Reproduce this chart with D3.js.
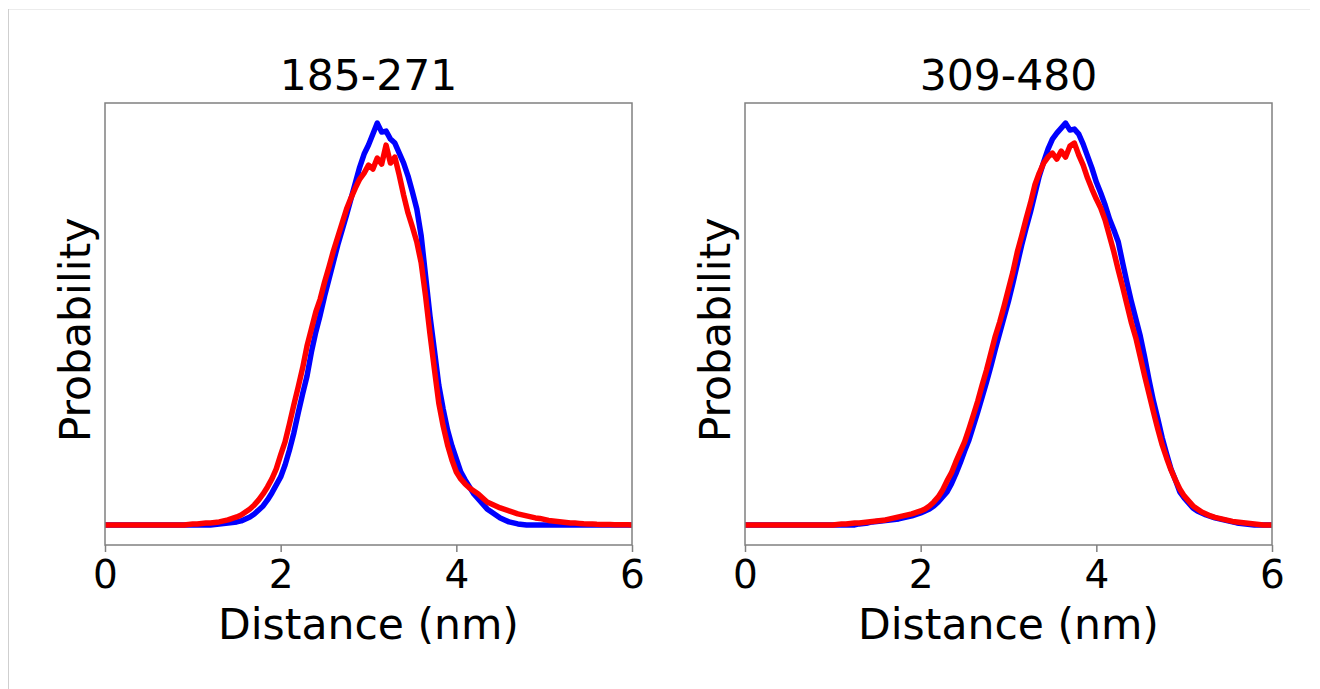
<!DOCTYPE html>
<html>
<head>
<meta charset="utf-8">
<script src="https://cdn.jsdelivr.net/npm/d3@7"></script>
<style>
  html, body { margin: 0; padding: 0; background: #ffffff; }
  svg { display: block; }
  text { font-family: "DejaVu Sans", sans-serif; fill: #000; }
</style>
</head>
<body>
<svg id="chart" width="1320" height="689"></svg>
<script>
// ---------- data ----------
const titles = ["185-271", "309-480"];
const xTicks = [0, 2, 4, 6];
const xLabel = "Distance (nm)";
const yLabel = "Probability";

const distance = [
  0.00,0.05,0.10,0.15,0.20,0.25,0.30,0.35,0.40,0.45,
  0.50,0.55,0.60,0.65,0.70,0.75,0.80,0.85,0.90,0.95,
  1.00,1.05,1.10,1.15,1.20,1.25,1.30,1.35,1.40,1.45,
  1.50,1.55,1.60,1.65,1.70,1.75,1.80,1.85,1.90,1.95,
  2.00,2.05,2.10,2.15,2.20,2.25,2.30,2.35,2.40,2.45,
  2.50,2.55,2.60,2.65,2.70,2.75,2.80,2.85,2.90,2.95,
  3.00,3.05,3.10,3.15,3.20,3.25,3.30,3.35,3.40,3.45,
  3.50,3.55,3.60,3.65,3.70,3.75,3.80,3.85,3.90,3.95,
  4.00,4.05,4.10,4.15,4.20,4.25,4.30,4.35,4.40,4.45,
  4.50,4.55,4.60,4.65,4.70,4.75,4.80,4.85,4.90,4.95,
  5.00,5.05,5.10,5.15,5.20,5.25,5.30,5.35,5.40,5.45,
  5.50,5.55,5.60,5.65,5.70,5.75,5.80,5.85,5.90,5.95,
  6.00
];

// panel 1 : 185-271
const blue185 = [
  0,0,0,0,0,0,0,0,0,0,
  0,0,0,0,0,0,0,0,0,0,
  0,0,0,0,0,0.0005,0.001,0.0015,0.002,0.0025,
  0.003,0.004,0.006,0.008,0.011,0.015,0.019,0.025,0.032,0.040,
  0.048,0.060,0.075,0.092,0.112,0.131,0.149,0.173,0.193,0.210,
  0.229,0.246,0.263,0.280,0.295,0.310,0.326,0.342,0.358,0.371,
  0.380,0.391,0.402,0.393,0.394,0.386,0.382,0.372,0.362,0.349,
  0.333,0.316,0.289,0.249,0.209,0.175,0.140,0.116,0.095,0.079,
  0.066,0.053,0.045,0.038,0.031,0.026,0.021,0.016,0.013,0.010,
  0.007,0.005,0.003,0.002,0.001,0.0005,0,0,0,0,
  0,0,0,0,0,0,0,0,0,0,
  0,0,0,0,0,0,0,0,0,0,
  0
];
const red185 = [
  0,0,0,0,0,0,0,0,0,0,
  0,0,0,0,0,0,0,0,0,0.0005,
  0.001,0.001,0.0015,0.002,0.002,0.0025,0.003,0.004,0.005,0.0065,
  0.008,0.010,0.013,0.016,0.020,0.025,0.031,0.038,0.046,0.056,
  0.070,0.083,0.101,0.120,0.138,0.157,0.179,0.196,0.213,0.226,
  0.243,0.258,0.274,0.288,0.302,0.316,0.327,0.337,0.346,0.352,
  0.360,0.356,0.367,0.361,0.380,0.362,0.368,0.350,0.330,0.312,
  0.298,0.283,0.262,0.229,0.191,0.156,0.122,0.099,0.080,0.065,
  0.053,0.046,0.041,0.037,0.034,0.031,0.027,0.023,0.021,0.019,
  0.017,0.0155,0.014,0.0125,0.011,0.010,0.009,0.008,0.007,0.0065,
  0.0055,0.0045,0.004,0.0035,0.003,0.0025,0.002,0.0018,0.0015,0.0012,
  0.001,0.0008,0.0006,0.0005,0.0004,0.0003,0.0002,0.0002,0.0001,0.0001,
  0
];

// panel 2 : 309-480
const blue309 = [
  0,0,0,0,0,0,0,0,0,0,
  0,0,0,0,0,0,0,0,0,0,
  0,0,0,0,0,0,0.001,0.0015,0.002,0.003,
  0.0035,0.004,0.0045,0.005,0.0055,0.006,0.007,0.008,0.009,0.0105,
  0.012,0.014,0.016,0.019,0.023,0.028,0.033,0.041,0.051,0.062,
  0.074,0.085,0.099,0.113,0.128,0.143,0.159,0.176,0.192,0.208,
  0.224,0.242,0.261,0.280,0.297,0.313,0.331,0.349,0.363,0.376,
  0.386,0.392,0.397,0.402,0.395,0.396,0.391,0.381,0.369,0.357,
  0.343,0.332,0.320,0.306,0.295,0.283,0.262,0.242,0.223,0.206,
  0.189,0.168,0.145,0.124,0.106,0.087,0.071,0.056,0.045,0.033,
  0.027,0.022,0.017,0.014,0.012,0.010,0.0085,0.007,0.006,0.005,
  0.004,0.003,0.002,0.0015,0.001,0.0005,0,0,0,0,
  0
];
const red309 = [
  0,0,0,0,0,0,0,0,0,0,
  0,0,0,0,0,0,0,0,0,0,
  0,0.0005,0.001,0.001,0.0015,0.002,0.002,0.0025,0.003,0.0035,
  0.004,0.0045,0.005,0.006,0.007,0.008,0.009,0.010,0.011,0.0125,
  0.014,0.016,0.019,0.023,0.028,0.035,0.044,0.052,0.063,0.073,
  0.083,0.096,0.110,0.124,0.140,0.155,0.172,0.189,0.203,0.219,
  0.236,0.253,0.273,0.289,0.306,0.322,0.340,0.352,0.362,0.368,
  0.372,0.366,0.374,0.368,0.379,0.382,0.370,0.360,0.347,0.336,
  0.326,0.317,0.305,0.289,0.273,0.255,0.238,0.220,0.202,0.187,
  0.168,0.149,0.131,0.113,0.096,0.080,0.067,0.055,0.045,0.036,
  0.029,0.024,0.019,0.016,0.013,0.011,0.009,0.0075,0.0065,0.0055,
  0.0045,0.0035,0.003,0.0025,0.002,0.0015,0.001,0.0005,0,0,
  0
];

const seriesColors = ["#0000ff", "#ff0000"];

// ---------- layout ----------
const W = 1320, H = 689;
const plotTop = 103, plotBottom = 545, plotWidth = 527;
const panelLefts = [105, 745];
const panels = [
  { title: titles[0], series: [blue185, red185] },
  { title: titles[1], series: [blue309, red309] }
];

const svg = d3.select("#chart");
svg.append("rect").attr("x", 0).attr("y", 0).attr("width", W).attr("height", H).attr("fill", "#fff");

// faint outer frame of the picture
svg.append("line").attr("x1", 8).attr("x2", 1310).attr("y1", 9.5).attr("y2", 9.5)
  .attr("stroke", "#ececec").attr("stroke-width", 1);
svg.append("line").attr("x1", 8.5).attr("x2", 8.5).attr("y1", 9).attr("y2", H)
  .attr("stroke", "#cfcfcf").attr("stroke-width", 1);

panels.forEach((p, pi) => {
  const left = panelLefts[pi];
  const g = svg.append("g");

  const x = d3.scaleLinear().domain([0, 6]).range([left, left + plotWidth]);
  const yMax = d3.max(p.series, s => d3.max(s));
  const y = d3.scaleLinear().domain([-0.05 * yMax, 1.05 * yMax]).range([plotBottom, plotTop]);

  // lines
  const line = d3.line().x((d, i) => x(distance[i])).y(d => y(d));
  p.series.forEach((vals, si) => {
    g.append("path")
      .datum(vals)
      .attr("d", line)
      .attr("fill", "none")
      .attr("stroke", seriesColors[si])
      .attr("stroke-width", 5.5)
      .attr("stroke-linejoin", "round")
      .attr("stroke-linecap", "butt");
  });

  // frame
  g.append("rect")
    .attr("x", left).attr("y", plotTop)
    .attr("width", plotWidth).attr("height", plotBottom - plotTop)
    .attr("fill", "none").attr("stroke", "#808080").attr("stroke-width", 1.5);

  // x axis
  const ax = g.append("g")
    .attr("transform", `translate(0,${plotBottom})`)
    .call(d3.axisBottom(x).tickValues(xTicks).tickFormat(d3.format("d")).tickSize(7).tickPadding(8));
  ax.select(".domain").remove();
  ax.selectAll(".tick line").attr("stroke", "#808080").attr("stroke-width", 1.5);
  ax.selectAll(".tick text")
    .attr("font-family", "DejaVu Sans")
    .attr("font-size", 39)
    .attr("fill", "#000");

  // title
  g.append("text")
    .attr("x", left + plotWidth / 2).attr("y", 90)
    .attr("text-anchor", "middle")
    .attr("font-size", 42.5)
    .text(p.title);

  // x label
  g.append("text")
    .attr("x", left + plotWidth / 2).attr("y", 639)
    .attr("text-anchor", "middle")
    .attr("font-size", 42.5)
    .text(xLabel);

  // y label
  g.append("text")
    .attr("transform", `translate(${left - 15},${(plotTop + plotBottom) / 2 + 6}) rotate(-90)`)
    .attr("text-anchor", "middle")
    .attr("font-size", 42.5)
    .text(yLabel);
});
</script>
</body>
</html>
